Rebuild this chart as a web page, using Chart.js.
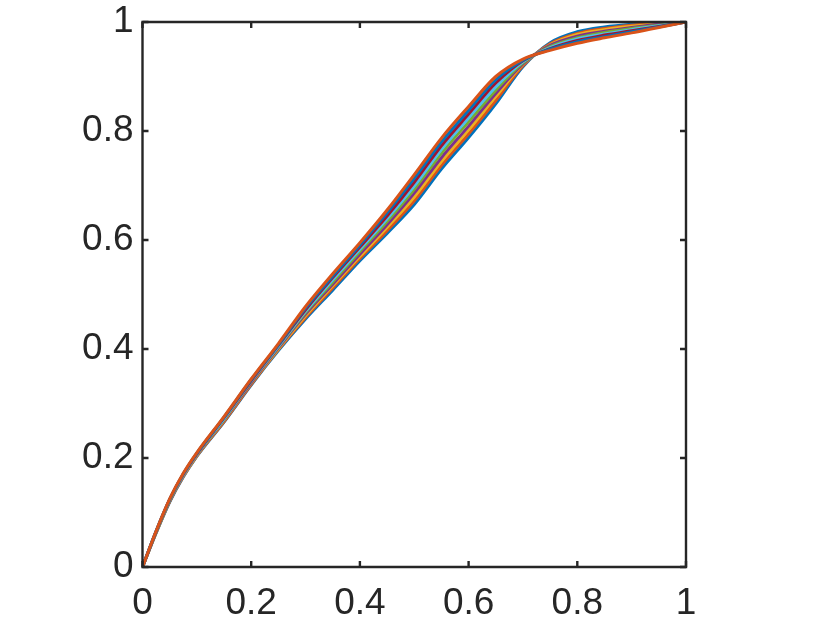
<!DOCTYPE html>
<html>
<head>
<meta charset="utf-8">
<script src="https://cdn.jsdelivr.net/npm/chart.js@4.4.1/dist/chart.umd.min.js"></script>
<style>
  html, body { margin: 0; padding: 0; background: #ffffff; }
  #wrap { width: 830px; height: 623px; }
</style>
</head>
<body>
<div id="wrap"><canvas id="c" width="830" height="623"></canvas></div>
<script>
// ---- data ----
const xs = [0, 0.025, 0.05, 0.075, 0.1, 0.15, 0.2, 0.25, 0.3, 0.35, 0.4, 0.45, 0.5, 0.55, 0.6, 0.65, 0.7, 0.75, 0.8, 0.85, 0.9, 0.95, 1];

const s1 = [0, .062, .119, .165, .203, .266, .334, .397, .455, .508, .562, .612, .665, .730, .788, .850, .918, .962, .982, .991, .996, .999, 1];
const s2 = [0, .063, .120, .166, .204, .267, .335, .399, .458, .512, .566, .617, .672, .737, .795, .856, .920, .960, .979, .988, .994, .998, 1];
const s3 = [0, .063, .121, .167, .205, .269, .337, .400, .461, .516, .570, .623, .679, .744, .802, .863, .922, .958, .977, .986, .992, .997, 1];
const s4 = [0, .064, .121, .168, .206, .270, .338, .402, .464, .519, .574, .628, .686, .751, .809, .869, .923, .957, .974, .983, .990, .996, 1];
const s5 = [0, .064, .122, .169, .207, .271, .340, .404, .467, .523, .579, .634, .693, .759, .817, .875, .925, .955, .971, .981, .988, .994, 1];
const s6 = [0, .065, .123, .169, .207, .272, .341, .405, .469, .527, .583, .639, .699, .766, .824, .881, .927, .953, .969, .978, .986, .993, 1];
const s7 = [0, .065, .124, .170, .208, .274, .342, .407, .472, .531, .587, .644, .706, .773, .831, .888, .929, .951, .966, .976, .984, .992, 1];
const s8 = [0, .066, .124, .171, .209, .275, .344, .408, .475, .534, .591, .650, .713, .780, .838, .894, .930, .950, .964, .973, .982, .991, 1];
const s9 = [0, .066, .125, .172, .210, .276, .345, .410, .478, .538, .595, .655, .720, .787, .845, .900, .932, .948, .961, .971, .980, .990, 1];

const seriesList = [s1, s2, s3, s4, s5, s6, s7, s8, s9];
const seriesColors = ['#0072BD', '#D95319', '#EDB120', '#7E2F8E', '#77AC30', '#4DBEEE', '#A2142F', '#0072BD', '#D95319'];

const xTickValues = [0, 0.2, 0.4, 0.6, 0.8, 1];
const xTickLabels = ['0', '0.2', '0.4', '0.6', '0.8', '1'];
const yTickValues = [0, 0.2, 0.4, 0.6, 0.8, 1];
const yTickLabels = ['0', '0.2', '0.4', '0.6', '0.8', '1'];

// ---- chart ----
const AXIS_COLOR = '#262626';
const FONT = { family: "'Liberation Sans', Arial, Helvetica, sans-serif", size: 37 };

const datasets = seriesList.map((s, i) => ({
  data: xs.map((x, j) => ({ x: x, y: s[j] })),
  borderColor: seriesColors[i],
  backgroundColor: seriesColors[i],
  borderWidth: 3,
  pointRadius: 0,
  fill: false,
  cubicInterpolationMode: 'monotone',
  order: seriesList.length - i
}));

const boxPlugin = {
  id: 'matlabBox',
  afterDatasetsDraw(chart) {
    const { ctx, chartArea: a, scales } = chart;
    ctx.save();
    ctx.strokeStyle = AXIS_COLOR;
    ctx.lineWidth = 2.4;
    const tl = 6;
    ctx.beginPath();
    scales.x.ticks.forEach((t, i) => {
      const px = scales.x.getPixelForTick(i);
      ctx.moveTo(px, a.bottom); ctx.lineTo(px, a.bottom - tl);
      ctx.moveTo(px, a.top); ctx.lineTo(px, a.top + tl);
    });
    scales.y.ticks.forEach((t, i) => {
      const py = scales.y.getPixelForTick(i);
      ctx.moveTo(a.left, py); ctx.lineTo(a.left + tl, py);
      ctx.moveTo(a.right, py); ctx.lineTo(a.right - tl, py);
    });
    ctx.stroke();
    ctx.beginPath();
    ctx.rect(a.left, a.top, a.right - a.left, a.bottom - a.top);
    ctx.stroke();
    ctx.restore();
  }
};

new Chart(document.getElementById('c'), {
  type: 'line',
  data: { datasets },
  options: {
    responsive: false,
    animation: false,
    events: [],
    layout: { padding: { left: 0, top: 22, right: 144, bottom: 0 } },
    plugins: { legend: { display: false }, tooltip: { enabled: false } },
    scales: {
      x: {
        type: 'linear', min: 0, max: 1,
        afterBuildTicks(scale) { scale.ticks = xTickValues.map(v => ({ value: v })); },
        afterFit(scale) { scale.height = 56; scale.paddingLeft = 0; scale.paddingRight = 0; },
        grid: { display: false, drawTicks: false },
        border: { display: false },
        ticks: {
          color: AXIS_COLOR, font: FONT, padding: 15, maxRotation: 0, autoSkip: false,
          callback: (v) => { const k = xTickValues.indexOf(v); return k >= 0 ? xTickLabels[k] : ''; }
        }
      },
      y: {
        type: 'linear', min: 0, max: 1,
        afterBuildTicks(scale) { scale.ticks = yTickValues.map(v => ({ value: v })); },
        afterFit(scale) { scale.width = 142.5; scale.paddingTop = 0; scale.paddingBottom = 0; },
        grid: { display: false, drawTicks: false },
        border: { display: false },
        ticks: {
          color: AXIS_COLOR, font: FONT, padding: 9, autoSkip: false,
          callback: (v) => { const k = yTickValues.indexOf(v); return k >= 0 ? yTickLabels[k] : ''; }
        }
      }
    }
  },
  plugins: [boxPlugin]
});
</script>
</body>
</html>
